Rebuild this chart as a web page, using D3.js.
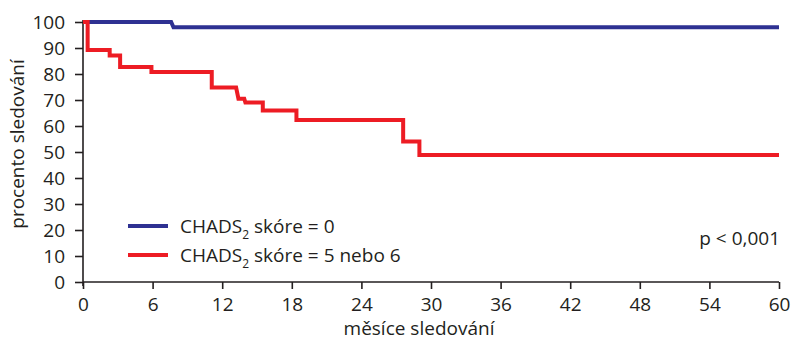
<!DOCTYPE html>
<html>
<head>
<meta charset="utf-8">
<script src="https://cdn.jsdelivr.net/npm/d3@7"></script>
<style>
  body { margin: 0; background: #fff; }
  text { font-family: "Open Sans", "Noto Sans", sans-serif; fill: #231f20; }
</style>
</head>
<body>
<svg id="chart"></svg>
<script>
// x ticks (months) and y ticks (percent)
var xTicks = [0, 6, 12, 18, 24, 30, 36, 42, 48, 54, 60];
var yTicks = [0, 10, 20, 30, 40, 50, 60, 70, 80, 90, 100];

// step points: [month, percent]
var score0 = [[0, 100], [7.6, 100], [7.8, 98], [60, 98]];
var score56 = [[0, 100], [0.4, 100], [0.4, 89.2], [2.3, 89.2], [2.3, 87.1], [3.2, 87.1], [3.2, 82.7],
    [5.9, 82.7], [5.9, 80.8], [11.1, 80.8], [11.1, 74.8], [13.2, 74.8], [13.4, 70.5], [13.9, 70.5],
    [14.0, 69.0], [15.5, 69.0], [15.5, 66.0], [18.4, 66.0], [18.4, 62.3], [27.6, 62.3], [27.6, 54.0],
    [29.0, 54.0], [29.0, 48.8], [60, 48.8]];

var legendLabels = ["CHADS", "CHADS"];
var legendRest = [" skóre = 0", " skóre = 5 nebo 6"];
var colors = ["#2e3192", "#ed1c24"];

var W = 792, H = 340;
var margin = {top: 22, right: 13, bottom: 58, left: 83};
var width = W - margin.left - margin.right,
    height = H - margin.top - margin.bottom;

var svg = d3.select("#chart").attr("width", W).attr("height", H)
    .append("g")
    .attr("transform", "translate(" + margin.left + "," + margin.top + ")");

var x = d3.scaleLinear().domain([0, 60]).range([0, width]);
var y = d3.scaleLinear().domain([0, 100]).range([height, 0]);

// axes
var xAxis = svg.append("g")
    .attr("transform", "translate(0," + height + ")")
    .call(d3.axisBottom(x).tickValues(xTicks).tickSize(7).tickPadding(9));
var yAxis = svg.append("g")
    .call(d3.axisLeft(y).tickValues(yTicks).tickSize(8).tickPadding(10));

[xAxis, yAxis].forEach(function(a) {
    a.select(".domain").remove();
    a.selectAll("line").attr("stroke", "#231f20").attr("stroke-width", 1.6);
    a.selectAll("text").style("font-size", "19px").attr("fill", "#231f20");
});
svg.append("line").attr("x1", 0).attr("x2", width).attr("y1", height).attr("y2", height)
    .attr("stroke", "#231f20").attr("stroke-width", 1.6);
svg.append("line").attr("x1", 0).attr("x2", 0).attr("y1", height + 4).attr("y2", -2)
    .attr("stroke", "#231f20").attr("stroke-width", 1.6);

// curves
var line = d3.line().x(function(d) { return x(d[0]); }).y(function(d) { return y(d[1]); });
[score0, score56].forEach(function(s, i) {
    svg.append("path").datum(s)
        .attr("d", line)
        .attr("fill", "none")
        .attr("stroke", colors[i])
        .attr("stroke-width", 4);
});

// legend
colors.forEach(function(c, i) {
    var ly = 204 + i * 29;
    svg.append("line").attr("x1", 45).attr("x2", 85).attr("y1", ly).attr("y2", ly)
        .attr("stroke", c).attr("stroke-width", 4);
    var t = svg.append("text").attr("x", 97).attr("y", ly + 7).style("font-size", "19px");
    t.append("tspan").text(legendLabels[i]);
    t.append("tspan").attr("dy", 6).style("font-size", "12px").text("2");
    t.append("tspan").attr("dy", -6).text(legendRest[i]);
});

svg.append("text").attr("x", width + 1).attr("y", 223).attr("text-anchor", "end")
    .style("font-size", "19px").text("p < 0,001");

// axis titles
svg.append("text").attr("x", width / 2 - 12).attr("y", height + 53)
    .attr("text-anchor", "middle").style("font-size", "19px").text("měsíce sledování");
svg.append("text").attr("transform", "translate(-59," + (height / 2 - 8) + ") rotate(-90)")
    .attr("text-anchor", "middle").style("font-size", "19px").text("procento sledování");
</script>
</body>
</html>
